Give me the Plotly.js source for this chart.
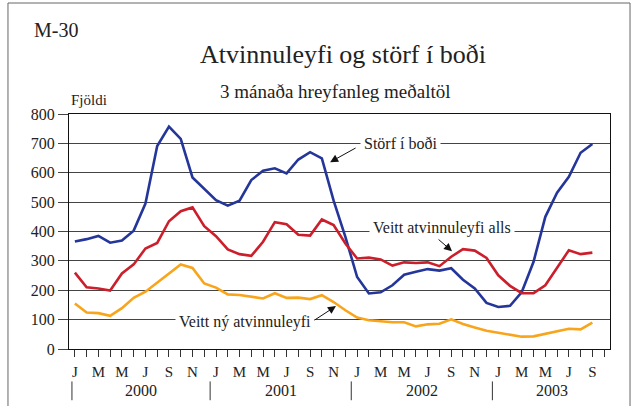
<!DOCTYPE html>
<html>
<head>
<meta charset="utf-8">
<script src="https://cdn.plot.ly/plotly-3.0.1.min.js"></script>
<style>
html,body{margin:0;padding:0;background:#fff;}
#chart{width:638px;height:406px;}
</style>
</head>
<body>
<div id="chart"></div>
<script>
// ---- data (monthly, Jan 2000 – Sep 2003) ----
const years = ['2000', '2001', '2002', '2003'];
const monthLetters = ['J', '', 'M', '', 'M', '', 'J', '', 'S', '', 'N', ''];

const storfIBodi = [
  366, 374, 385, 362, 369, 403, 495, 691, 757, 715, 584, 545,
  507, 488, 505, 575, 607, 615, 598, 645, 670, 649, 505, 382,
  245, 189, 193, 217, 253, 263, 272, 267, 275, 236, 206, 157,
  143, 147, 194, 297, 450, 532, 586, 668, 698
];
const veittAlls = [
  260, 210, 206, 199, 257, 288, 342, 361, 435, 469, 482, 418,
  384, 339, 323, 317, 365, 432, 425, 389, 386, 441, 422, 359,
  308, 311, 305, 284, 295, 293, 295, 282, 314, 340, 335, 310,
  251, 215, 190, 190, 217, 276, 336, 323, 328
];
const veittNy = [
  155, 124, 122, 113, 139, 174, 195, 227, 258, 288, 276, 223,
  209, 186, 184, 177, 172, 190, 174, 175, 170, 183, 160, 132,
  107, 98, 95, 91, 91, 77, 84, 86, 101, 85, 73, 62,
  55, 48, 42, 43, 52, 61, 69, 67, 90
];

const seriesNames = ['Störf í boði', 'Veitt atvinnuleyfi alls', 'Veitt ný atvinnuleyfi'];
const yTicks = [0, 100, 200, 300, 400, 500, 600, 700, 800];

// ---- build ----
const idx = storfIBodi.map((_, i) => i);
const nSlots = years.length * 12 - 2; // Jan 2000 .. Oct 2003 tick slots
const tickvals = [], ticktext = [];
for (let i = 0; i < nSlots; i++) { tickvals.push(i); ticktext.push(monthLetters[i % 12]); }

const serif = 'Liberation Serif';
const colors = ['#24369a', '#cc1f2c', '#f8a51c'];

const traces = [storfIBodi, veittAlls, veittNy].map((arr, k) => ({
  x: idx, y: arr, type: 'scatter', mode: 'lines', name: seriesNames[k],
  line: {color: colors[k], width: 2.6}, hoverinfo: 'skip'
}));

// year separators and labels
const sepX = [-0.25, 11.5, 23.5, 35.5, 45.6];
const shapes = sepX.map(x => ({
  type: 'line', xref: 'x', yref: 'paper', x0: x, x1: x, y0: -0.138, y1: -0.218,
  line: {color: '#333', width: 1}
}));
// outer frame
shapes.push({type: 'rect', xref: 'paper', yref: 'paper',
  x0: -0.1128, x1: 1.0370, y0: -0.27, y1: 1.4723,
  line: {color: '#666', width: 1}, fillcolor: 'rgba(0,0,0,0)', layer: 'below'});

const C = {xanchor: 'center', yanchor: 'middle', showarrow: false};
const annotations = [];
years.forEach((yr, k) => {
  annotations.push(Object.assign({xref: 'x', yref: 'paper', x: (sepX[k] + sepX[k + 1]) / 2, y: -0.178,
    text: yr, font: {family: serif, size: 16, color: '#222'}}, C));
});
annotations.push(Object.assign({xref: 'paper', yref: 'paper', x: -0.024, y: 1.357, text: 'M-30',
  font: {family: serif, size: 20, color: '#222'}}, C));
annotations.push(Object.assign({xref: 'paper', yref: 'paper', x: 0.4917, y: 1.097, text: '3 mánaða hreyfanleg meðaltöl',
  font: {family: serif, size: 19, color: '#222'}}, C));
annotations.push(Object.assign({xref: 'paper', yref: 'paper', x: 0.037, y: 1.06, text: 'Fjöldi',
  font: {family: serif, size: 15, color: '#222'}}, C));

// series labels (white background) and arrows
const lblFont = {family: serif, size: 16, color: '#222'};
annotations.push(Object.assign({xref: 'x', yref: 'y', x: 27.67, y: 701, text: seriesNames[0],
  bgcolor: '#fff', borderpad: 3, font: lblFont}, C));
annotations.push(Object.assign({xref: 'x', yref: 'y', x: 31.24, y: 412, text: seriesNames[1],
  bgcolor: '#fff', borderpad: 3, font: lblFont}, C));
annotations.push(Object.assign({xref: 'x', yref: 'y', x: 14.48, y: 93, text: seriesNames[2],
  bgcolor: '#fff', borderpad: 3, font: lblFont}, C));
const arrow = {text: '', showarrow: true, arrowhead: 2, arrowsize: 1.6, arrowwidth: 1,
  arrowcolor: '#111', standoff: 0, startstandoff: 0, xref: 'x', yref: 'y', axref: 'pixel', ayref: 'pixel'};
annotations.push(Object.assign({}, arrow, {x: 21.7, y: 636, ax: 27, ay: -15}));
annotations.push(Object.assign({}, arrow, {x: 32.07, y: 333, ax: -15, ay: -13}));
annotations.push(Object.assign({}, arrow, {x: 22.2, y: 146, ax: -23, ay: 15}));

const layout = {
  width: 638, height: 406,
  margin: {l: 69, r: 28, t: 114, b: 57},
  paper_bgcolor: '#fff', plot_bgcolor: '#fff',
  showlegend: false,
  font: {family: serif, color: '#222'},
  title: {text: 'Atvinnuleyfi og störf í boði', x: 0.5376, xanchor: 'center', y: 0.867, yanchor: 'middle',
    font: {family: serif, size: 26, color: '#222'}},
  xaxis: {
    range: [-0.5, 45.5], tickmode: 'array', tickvals: tickvals, ticktext: ticktext,
    ticks: 'outside', ticklen: 7, tickcolor: '#333', tickwidth: 1,
    showgrid: false, zeroline: false, showline: true, linecolor: '#111', linewidth: 1, mirror: true,
    tickangle: 0, ticklabelstandoff: 2,
    tickfont: {family: serif, size: 15, color: '#222'}, fixedrange: true
  },
  yaxis: {
    range: [0, 800], tickmode: 'array', tickvals: yTicks,
    ticks: 'outside', ticklen: 10, tickcolor: '#444', tickwidth: 1,
    showgrid: true, gridcolor: '#444', gridwidth: 1, zeroline: false,
    showline: true, linecolor: '#111', linewidth: 1, mirror: true,
    tickfont: {family: serif, size: 16, color: '#222'}, fixedrange: true
  },
  shapes: shapes,
  annotations: annotations
};

Plotly.newPlot('chart', traces, layout, {displayModeBar: false, staticPlot: true});
</script>
</body>
</html>
